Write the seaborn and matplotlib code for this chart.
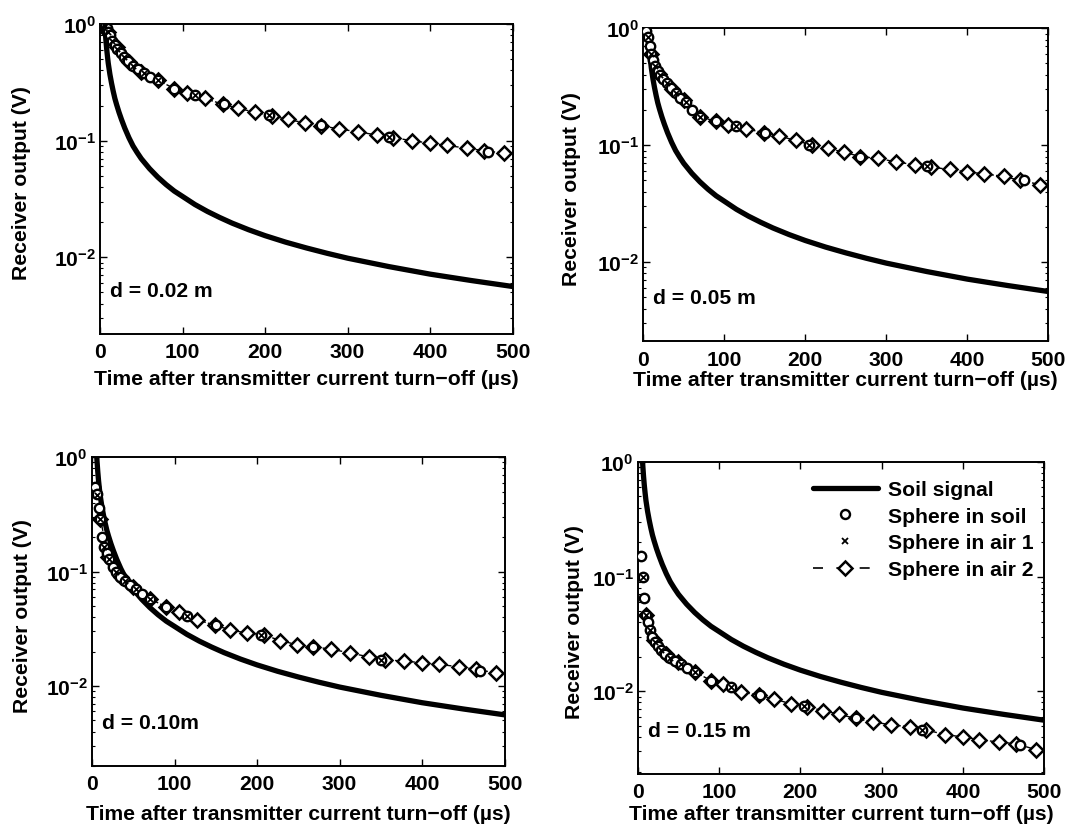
import numpy as np
import pandas as pd
import matplotlib
matplotlib.use("Agg")
import matplotlib.pyplot as plt
import seaborn as sns
from matplotlib.lines import Line2D

# --- data ---
# soil signal (same in every panel)
t_soil = [5, 6, 7, 8, 9, 10, 12, 14, 16, 18, 20, 23, 26, 30, 35, 40, 45, 50, 60, 70, 80, 90, 100, 115, 130,
          145, 160, 180, 200, 225, 250, 275, 300, 350, 400, 450, 500]
v_soil = [1.3, 0.95, 0.75, 0.62, 0.53, 0.46, 0.37, 0.31, 0.265, 0.23, 0.205, 0.175, 0.152, 0.128, 0.106, 0.090,
          0.079, 0.070, 0.0575, 0.0486, 0.042, 0.0369, 0.0332, 0.0283, 0.0247, 0.0219, 0.0196, 0.0172, 0.0153,
          0.01345, 0.0120, 0.0108, 0.0098, 0.0083, 0.00715, 0.0063, 0.0056]

# sphere in soil (circles)
t_sphere = [4, 6, 8, 10, 12, 15, 18, 21, 25, 29, 34, 40, 46, 53, 60, 70, 90, 115, 150, 205, 268, 350, 470]
soil_002 = [0.99, 0.97, 0.93, 0.86, 0.80, 0.72, 0.66, 0.61, 0.56, 0.52, 0.48, 0.44, 0.41, 0.38, 0.355, 0.33,
            0.28, 0.245, 0.205, 0.165, 0.135, 0.108, 0.08]
soil_005 = [0.95, 0.85, 0.70, 0.60, 0.54, 0.48, 0.43, 0.40, 0.37, 0.34, 0.31, 0.28, 0.255, 0.235, 0.20, 0.175,
            0.16, 0.145, 0.128, 0.10, 0.08, 0.066, 0.05]
soil_010 = [0.55, 0.48, 0.36, 0.29, 0.20, 0.165, 0.145, 0.13, 0.11, 0.10, 0.09, 0.082, 0.077, 0.07, 0.064, 0.058,
            0.049, 0.041, 0.034, 0.028, 0.022, 0.017, 0.0135]
soil_015 = [0.15, 0.10, 0.065, 0.046, 0.040, 0.034, 0.030, 0.027, 0.025, 0.023, 0.021, 0.0195, 0.0185, 0.0172,
            0.016, 0.0148, 0.0124, 0.0108, 0.0092, 0.0074, 0.0058, 0.0046, 0.0034]

# sphere in air 1 (x markers)
t_air1 = [6, 10, 15, 21, 29, 40, 53, 70, 115, 205, 350]
air1_002 = [0.96, 0.85, 0.72, 0.61, 0.52, 0.44, 0.38, 0.33, 0.245, 0.165, 0.108]
air1_005 = [0.84, 0.60, 0.48, 0.40, 0.34, 0.28, 0.235, 0.175, 0.145, 0.10, 0.066]
air1_010 = [0.47, 0.29, 0.165, 0.13, 0.10, 0.082, 0.07, 0.058, 0.041, 0.028, 0.017]
air1_015 = [0.10, 0.046, 0.034, 0.027, 0.023, 0.0195, 0.0172, 0.0148, 0.0108, 0.0074, 0.0046]

# sphere in air 2 (diamonds, dashed line)
t_air2 = [10, 20, 35, 50, 70, 90, 105, 127, 149, 167, 188, 208, 228, 248, 268, 290, 312, 335, 355, 378, 400,
          420, 445, 465, 490]
air2_002 = [0.86, 0.63, 0.47, 0.39, 0.33, 0.28, 0.255, 0.23, 0.205, 0.19, 0.175, 0.163, 0.152, 0.142, 0.134,
            0.126, 0.119, 0.112, 0.106, 0.10, 0.095, 0.091, 0.086, 0.082, 0.078]
air2_005 = [0.60, 0.41, 0.30, 0.245, 0.175, 0.16, 0.15, 0.138, 0.128, 0.12, 0.11, 0.10, 0.094, 0.087, 0.08,
            0.077, 0.072, 0.068, 0.065, 0.062, 0.059, 0.057, 0.054, 0.05, 0.046]
air2_010 = [0.29, 0.135, 0.09, 0.073, 0.058, 0.049, 0.044, 0.038, 0.034, 0.031, 0.029, 0.028, 0.025, 0.023,
            0.022, 0.021, 0.0195, 0.018, 0.017, 0.0165, 0.016, 0.0155, 0.0147, 0.014, 0.013]
air2_015 = [0.046, 0.028, 0.021, 0.018, 0.0148, 0.0124, 0.0115, 0.0099, 0.0092, 0.0086, 0.0078, 0.0073, 0.0068,
            0.0063, 0.0058, 0.0054, 0.0051, 0.0049, 0.0046, 0.0042, 0.004, 0.0038, 0.0036, 0.0035, 0.0031]

panel_labels = ["d = 0.02 m", "d = 0.05 m", "d = 0.10m", "d = 0.15 m"]
soil_sets = [soil_002, soil_005, soil_010, soil_015]
air1_sets = [air1_002, air1_005, air1_010, air1_015]
air2_sets = [air2_002, air2_005, air2_010, air2_015]
y_bottom = [0.0022, 0.0021, 0.002, 0.0019]

# --- style ---
sns.set_theme(style="ticks")
plt.rcParams["font.family"] = ["Liberation Sans", "DejaVu Sans"]
plt.rcParams["font.weight"] = "bold"
plt.rcParams["mathtext.fontset"] = "custom"
plt.rcParams["mathtext.rm"] = "Liberation Sans:bold"
plt.rcParams["mathtext.default"] = "regular"
plt.rcParams["axes.linewidth"] = 1.4
plt.rcParams["axes.edgecolor"] = "black"
plt.rcParams["text.color"] = "black"
plt.rcParams["axes.labelcolor"] = "black"
plt.rcParams["axes.labelweight"] = "bold"

FS = 15.2

fig = plt.figure(figsize=(10.72, 8.37), dpi=100)
# axes rectangles (figure fractions) and label positions (axes fractions)
rects = [
    [0.0933, 0.600, 0.385, 0.370],
    [0.600, 0.591, 0.378, 0.374],
    [0.0858, 0.0836, 0.385, 0.369],
    [0.595, 0.074, 0.379, 0.373],
]
ylab_x = [-0.167, -0.153, -0.145, -0.133]
xlab_y = [-0.113, -0.09, -0.123, -0.096]

soil_df = pd.DataFrame({"t": t_soil, "v": v_soil})

for i, rect in enumerate(rects):
    ax = fig.add_axes(rect)
    ax.set_yscale("log")

    sns.lineplot(data=soil_df, x="t", y="v", ax=ax, color="black", linewidth=3.8, sort=True)

    a2 = pd.DataFrame({"t": t_air2, "v": air2_sets[i]})
    sns.lineplot(data=a2, x="t", y="v", ax=ax, color="black", linewidth=1.0, linestyle="--",
                 marker="D", markersize=7, markerfacecolor="white", markeredgecolor="black",
                 markeredgewidth=1.8, dashes=(4, 2))

    sp = pd.DataFrame({"t": t_sphere, "v": soil_sets[i]})
    sns.scatterplot(data=sp, x="t", y="v", ax=ax, marker="o", s=46, facecolors="white",
                    edgecolor="black", linewidth=1.7, zorder=4)

    a1 = pd.DataFrame({"t": t_air1, "v": air1_sets[i]})
    sns.scatterplot(data=a1, x="t", y="v", ax=ax, marker="x", s=14, color="black",
                    linewidth=1.3, zorder=5)

    ax.set_xlim(0, 500)
    ax.set_ylim(y_bottom[i], 1)
    ax.set_xticks([0, 100, 200, 300, 400, 500])
    ax.set_yticks([1e-2, 1e-1, 1])
    ax.tick_params(axis="both", which="both", direction="in", top=True, right=True,
                   labelsize=FS, colors="black")
    ax.tick_params(which="major", length=5, width=1)
    ax.tick_params(which="minor", length=2.5, width=0.8)
    ax.tick_params(axis="x", which="major", pad=6)
    ax.tick_params(axis="y", which="major", pad=3)
    ax.set_xlabel("Time after transmitter current turn\u2212off (\u00b5s)", fontsize=FS)
    ax.set_ylabel("Receiver output (V)", fontsize=FS)
    ax.xaxis.set_label_coords(0.5, xlab_y[i])
    ax.yaxis.set_label_coords(ylab_x[i], 0.49)
    ax.text(0.025, 0.14, panel_labels[i], transform=ax.transAxes, fontsize=FS, va="center", ha="left")

    if i == 3:
        handles = [
            Line2D([], [], color="black", linewidth=3.8),
            Line2D([], [], color="black", linestyle="none", marker="o", markersize=6.5,
                   markerfacecolor="white", markeredgewidth=1.7),
            Line2D([], [], color="black", linestyle="none", marker="x", markersize=4,
                   markeredgewidth=1.3),
            Line2D([], [], color="black", linestyle="--", linewidth=1.2, dashes=(6, 8), marker="D",
                   markersize=7, markerfacecolor="white", markeredgewidth=1.8),
        ]
        labels = ["Soil signal", "Sphere in soil", "Sphere in air 1", "Sphere in air 2"]
        ax.legend(handles, labels, loc="upper right", frameon=False, fontsize=FS,
                  handlelength=3.1, handletextpad=0.47, labelspacing=0.36,
                  borderaxespad=0.1, bbox_to_anchor=(1.0, 0.975))

fig.savefig("out.png", dpi=100)
